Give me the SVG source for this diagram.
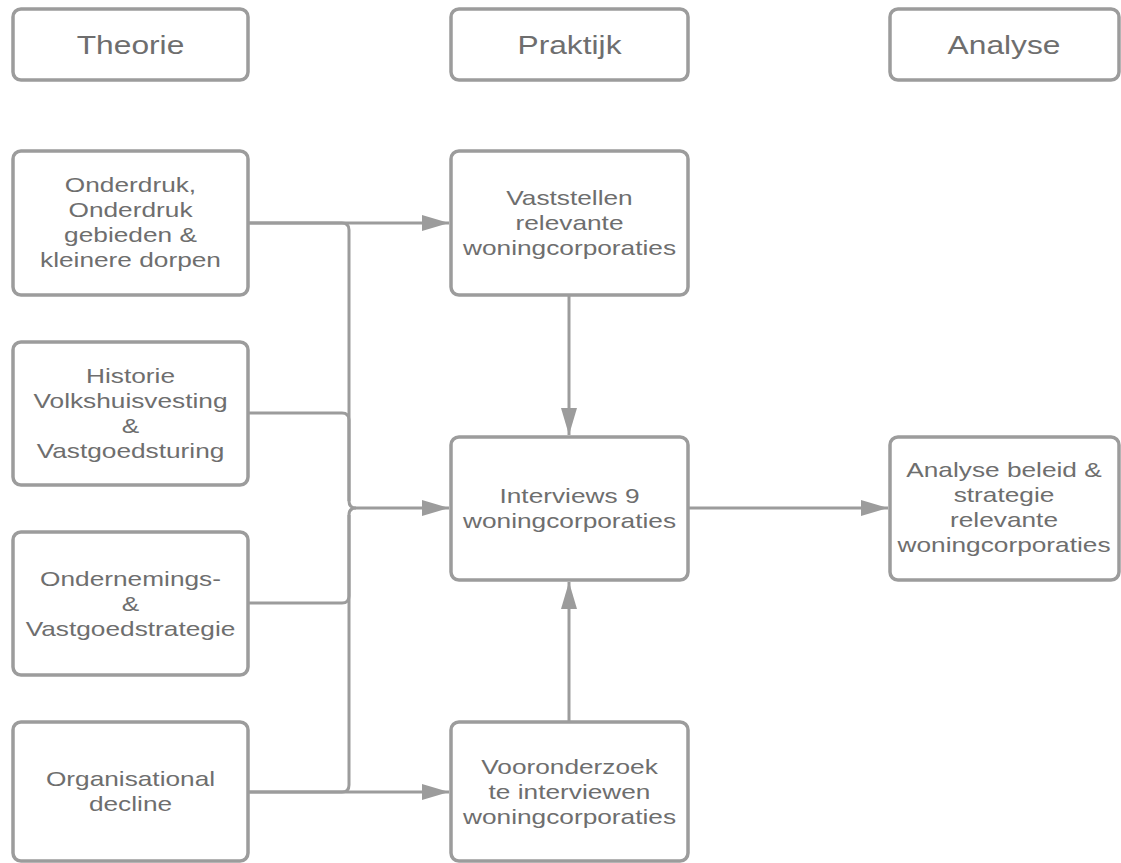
<svg xmlns="http://www.w3.org/2000/svg" width="1121" height="863" viewBox="0 0 1121 863">
<defs>
<style>
.box{fill:#ffffff;stroke:#9c9c9c;stroke-width:3.5}
.t{font-family:"Liberation Sans",Arial,sans-serif;font-size:21px;fill:#6e6e6e;text-anchor:middle}
.h{font-family:"Liberation Sans",Arial,sans-serif;font-size:26px;fill:#6e6e6e;text-anchor:middle}
.c{fill:none;stroke:#9c9c9c;stroke-width:3}
</style>
<marker id="ah" viewBox="0 0 27 16" refX="27" refY="8" markerWidth="27" markerHeight="16" markerUnits="userSpaceOnUse" orient="auto">
<path d="M0,0 L27,8 L0,16 Z" fill="#9c9c9c"/>
</marker>
</defs>
<rect width="1121" height="863" fill="#ffffff"/>

<g id="connectors">
<path class="c" d="M248,223 H449" marker-end="url(#ah)"/>
<path class="c" d="M248,223 H342 Q349,223 349,230 V501 Q349,508 356,508 H449" marker-end="url(#ah)"/>
<path class="c" d="M248,413 H342 Q349,413 349,420 V501"/>
<path class="c" d="M248,603 H342 Q349,603 349,596 V515 Q349,508 356,508"/>
<path class="c" d="M248,792 H342 Q349,792 349,785 V515"/>
<path class="c" d="M248,792 H449" marker-end="url(#ah)"/>
<path class="c" d="M569,295 V435" marker-end="url(#ah)"/>
<path class="c" d="M569,722 V582" marker-end="url(#ah)"/>
<path class="c" d="M688,508 H888" marker-end="url(#ah)"/>
</g>

<g id="theorie">
<rect class="box" x="13" y="9" width="235" height="71" rx="8"/>
<text class="h" transform="matrix(1.22 0 0 1 130.5 0)" x="0" y="54">Theorie</text>
</g>
<g id="praktijk">
<rect class="box" x="451" y="9" width="237" height="71" rx="8"/>
<text class="h" transform="matrix(1.22 0 0 1 569.5 0)" x="0" y="54">Praktijk</text>
</g>
<g id="analyse">
<rect class="box" x="890" y="9" width="229" height="71" rx="8"/>
<text class="h" transform="matrix(1.22 0 0 1 1004 0)" x="0" y="54">Analyse</text>
</g>

<g id="onderdruk">
<rect class="box" x="13" y="151" width="235" height="144" rx="8"/>
<text class="t" transform="matrix(1.25 0 0 1 130.5 0)"><tspan x="0" y="192">Onderdruk,</tspan><tspan x="0" y="217">Onderdruk</tspan><tspan x="0" y="242">gebieden &amp;</tspan><tspan x="0" y="267">kleinere dorpen</tspan></text>
</g>
<g id="vaststellen">
<rect class="box" x="451" y="151" width="237" height="144" rx="8"/>
<text class="t" transform="matrix(1.25 0 0 1 569.5 0)"><tspan x="0" y="205">Vaststellen</tspan><tspan x="0" y="230">relevante</tspan><tspan x="0" y="255">woningcorporaties</tspan></text>
</g>
<g id="historie">
<rect class="box" x="13" y="342" width="235" height="143" rx="8"/>
<text class="t" transform="matrix(1.25 0 0 1 130.5 0)"><tspan x="0" y="383">Historie</tspan><tspan x="0" y="408">Volkshuisvesting</tspan><tspan x="0" y="433">&amp;</tspan><tspan x="0" y="458">Vastgoedsturing</tspan></text>
</g>
<g id="interviews">
<rect class="box" x="451" y="437" width="237" height="143" rx="8"/>
<text class="t" transform="matrix(1.25 0 0 1 569.5 0)"><tspan x="0" y="503">Interviews 9</tspan><tspan x="0" y="528">woningcorporaties</tspan></text>
</g>
<g id="analyse-beleid">
<rect class="box" x="890" y="437" width="229" height="143" rx="8"/>
<text class="t" transform="matrix(1.25 0 0 1 1004 0)"><tspan x="0" y="477">Analyse beleid &amp;</tspan><tspan x="0" y="502">strategie</tspan><tspan x="0" y="527">relevante</tspan><tspan x="0" y="552">woningcorporaties</tspan></text>
</g>
<g id="ondernemings">
<rect class="box" x="13" y="532" width="235" height="143" rx="8"/>
<text class="t" transform="matrix(1.25 0 0 1 130.5 0)"><tspan x="0" y="586">Ondernemings-</tspan><tspan x="0" y="611">&amp;</tspan><tspan x="0" y="636">Vastgoedstrategie</tspan></text>
</g>
<g id="organisational">
<rect class="box" x="13" y="722" width="235" height="139" rx="8"/>
<text class="t" transform="matrix(1.25 0 0 1 130.5 0)"><tspan x="0" y="786">Organisational</tspan><tspan x="0" y="811">decline</tspan></text>
</g>
<g id="vooronderzoek">
<rect class="box" x="451" y="722" width="237" height="139" rx="8"/>
<text class="t" transform="matrix(1.25 0 0 1 569.5 0)"><tspan x="0" y="774">Vooronderzoek</tspan><tspan x="0" y="799">te interviewen</tspan><tspan x="0" y="824">woningcorporaties</tspan></text>
</g>
</svg>
